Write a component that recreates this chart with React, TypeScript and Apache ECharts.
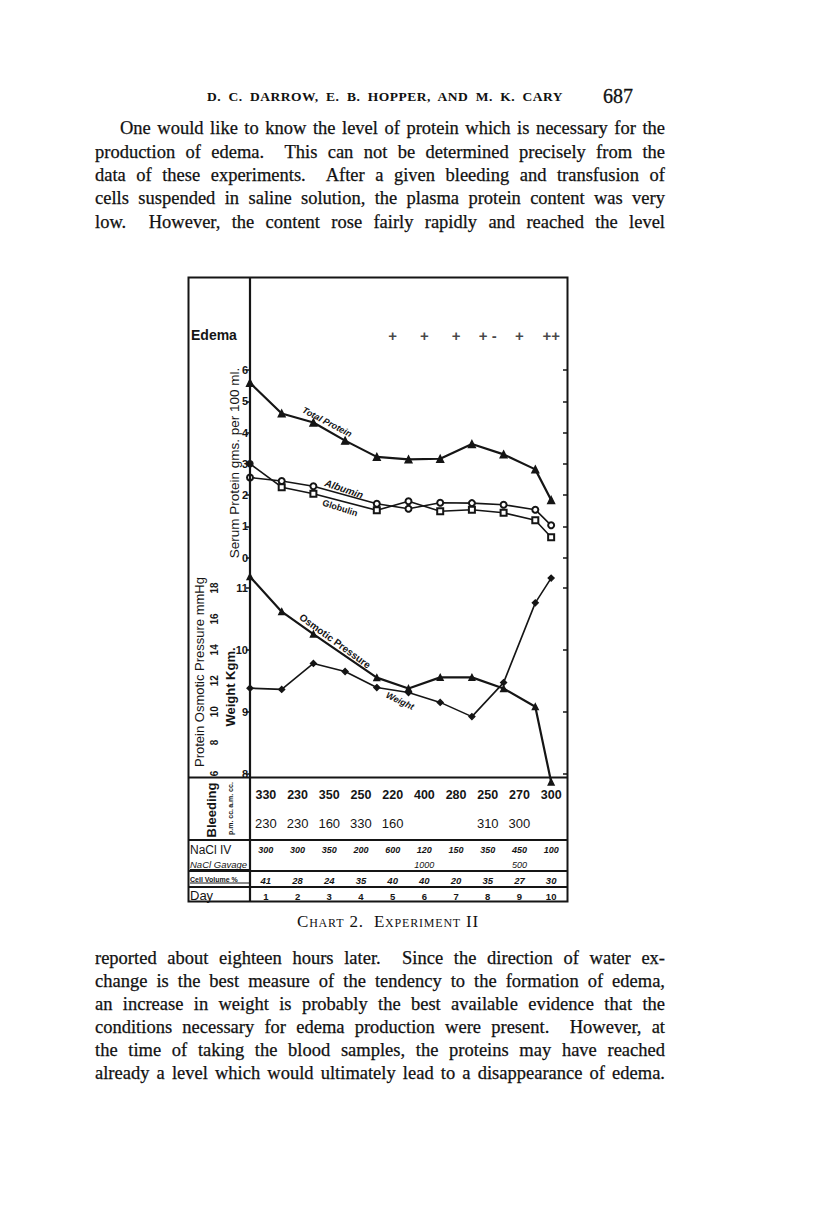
import React, { useEffect, useRef } from "react";
import * as echarts from "echarts";

// ---- data ----
const xAll = [0.5, 1.5, 2.5, 3.5, 4.5, 5.5, 6.5, 7.5, 8.5, 9.5, 10];
const xNo35 = [0.5, 1.5, 2.5, 4.5, 5.5, 6.5, 7.5, 8.5, 9.5, 10];
const totalProtein = [5.59, 4.61, 4.32, 3.74, 3.22, 3.14, 3.16, 3.63, 3.3, 2.82, 1.84];
const albumin = [2.56, 2.45, 2.28, 1.72, 1.56, 1.75, 1.74, 1.69, 1.53, 1.03];
const globulin = [3.0, 2.25, 2.04, 1.51, 1.8, 1.48, 1.53, 1.43, 1.19, 0.65];
const osmoticPressure = [18.73, 16.47, 15.02, 12.2, 11.5, 12.22, 12.22, 11.5, 10.32, 5.45];
const weight = [9.38, 9.36, 9.78, 9.65, 9.39, 9.31, 9.15, 8.92, 9.47, 10.76, 11.16];

const days = [1, 2, 3, 4, 5, 6, 7, 8, 9, 10];
const edema = ["", "", "", "", "+", "+", "+", "+ -", "+", "++"];
const bleedingAM = ["330", "230", "350", "250", "220", "400", "280", "250", "270", "300"];
const bleedingPM = ["230", "230", "160", "330", "160", "", "", "310", "300", ""];
const naclIV = ["300", "300", "350", "200", "600", "120", "150", "350", "450", "100"];
const naclGavage = ["", "", "", "", "", "1000", "", "", "500", ""];
const cellVolume = ["41", "28", "24", "35", "40", "40", "20", "35", "27", "30"];

const topLines = [
  "One would like to know the level of protein which is necessary for the",
  "production of edema.  This can not be determined precisely from the",
  "data of these experiments.  After a given bleeding and transfusion of",
  "cells suspended in saline solution, the plasma protein content was very",
  "low.  However, the content rose fairly rapidly and reached the level",
];
const bottomLines = [
  "reported about eighteen hours later.  Since the direction of water ex-",
  "change is the best measure of the tendency to the formation of edema,",
  "an increase in weight is probably the best available evidence that the",
  "conditions necessary for edema production were present.  However, at",
  "the time of taking the blood samples, the proteins may have reached",
  "already a level which would ultimately lead to a disappearance of edema.",
];

const INK = "#151515";
const HAND = '"Liberation Sans", "DejaVu Sans", sans-serif';
const GRID_L = 250;
const GRID_W = 317;
const X_MIN = 0.5;
const X_MAX = 10.5;
const dayX = (d: number) => GRID_L + ((d - X_MIN) / (X_MAX - X_MIN)) * GRID_W;

function txt(text: string, x: number, y: number, font: string, opts: any = {}) {
  return {
    type: "text",
    x,
    y,
    rotation: opts.rotation || 0,
    z: 10,
    style: {
      text,
      fill: INK,
      font,
      align: opts.align || "center",
      verticalAlign: "middle",
    },
  };
}
function hline(x1: number, x2: number, y: number, w = 1.8) {
  return { type: "line", z: 5, shape: { x1, y1: y, x2, y2: y }, style: { stroke: INK, lineWidth: w } };
}
function vline(x: number, y1: number, y2: number, w = 1.8) {
  return { type: "line", z: 5, shape: { x1: x, y1, x2: x, y2 }, style: { stroke: INK, lineWidth: w } };
}

export default function App() {
  const ref = useRef<HTMLDivElement>(null);

  useEffect(() => {
    if (!ref.current) return;
    const chart = echarts.init(ref.current, undefined, { renderer: "svg" });

    const graphic: any[] = [];
    // frame and table rules
    graphic.push({
      type: "rect",
      z: 5,
      shape: { x: 188.5, y: 277.5, width: 379, height: 624 },
      style: { fill: "none", stroke: INK, lineWidth: 2 },
    });
    graphic.push(vline(250, 278, 901, 2.2));
    graphic.push(hline(188, 568, 777.5, 2));
    graphic.push(hline(188, 568, 840, 1.8));
    graphic.push(hline(188, 568, 871, 1.8));
    graphic.push(hline(188, 568, 887, 1.8));

    // left labels
    graphic.push(txt("Edema", 191, 335, `bold 14px ${HAND}`, { align: "left" }));
    graphic.push(txt("Serum Protein gms. per 100 ml.", 234, 463, `13.5px ${HAND}`, { rotation: Math.PI / 2 }));
    graphic.push(txt("Protein Osmotic Pressure mmHg", 199, 672, `13px ${HAND}`, { rotation: Math.PI / 2 }));
    graphic.push(txt("Weight Kgm.", 230, 687, `bold 13px ${HAND}`, { rotation: Math.PI / 2 }));

    // curve labels
    graphic.push(txt("Total Protein", 327, 422, `italic bold 9px ${HAND}`, { rotation: -0.48 }));
    graphic.push(txt("Albumin", 344, 489, `italic bold 10px ${HAND}`, { rotation: -0.33 }));
    graphic.push(txt("Globulin", 340, 508, `bold 9px ${HAND}`, { rotation: -0.31 }));
    graphic.push(txt("Osmotic Pressure", 335, 641, `bold 10px ${HAND}`, { rotation: -0.63 }));
    graphic.push(txt("Weight", 400, 701, `italic bold 9px ${HAND}`, { rotation: -0.44 }));

    // table row labels
    graphic.push(txt("Bleeding", 211, 810, `bold 13px ${HAND}`, { rotation: Math.PI / 2 }));
    graphic.push(txt("a.m. cc.", 230, 795, `bold 7px ${HAND}`, { rotation: Math.PI / 2 }));
    graphic.push(txt("p.m. cc.", 230, 822, `bold 7px ${HAND}`, { rotation: Math.PI / 2 }));
    graphic.push(txt("NaCl IV", 190, 850, `12px ${HAND}`, { align: "left" }));
    graphic.push(txt("NaCl Gavage", 190, 864, `italic 9.5px ${HAND}`, { align: "left" }));
    graphic.push(hline(190, 249, 869.5, 1));
    graphic.push(txt("Cell Volume %", 190, 879, `bold 7px ${HAND}`, { align: "left" }));
    graphic.push(hline(190, 249, 883, 1));
    graphic.push(txt("Day", 190, 895, `13px ${HAND}`, { align: "left" }));

    // table values
    days.forEach((d, i) => {
      const x = dayX(d);
      if (bleedingAM[i]) graphic.push(txt(bleedingAM[i], x, 795, `bold 12.5px ${HAND}`));
      if (bleedingPM[i]) graphic.push(txt(bleedingPM[i], x, 823, `13px ${HAND}`));
      if (naclIV[i]) graphic.push(txt(naclIV[i], x, 850, `italic bold 9px ${HAND}`));
      if (naclGavage[i]) graphic.push(txt(naclGavage[i], x, 865, `italic 9px ${HAND}`));
      if (cellVolume[i]) graphic.push(txt(cellVolume[i], x, 880, `italic bold 9.5px ${HAND}`));
      graphic.push(txt(String(d), x, 896, `bold 9.5px ${HAND}`));
    });

    const lineBase = (name: string, xi: number, yi: number, data: any[], sym: string, size: number, w: number) => ({
      name,
      type: "line",
      xAxisIndex: xi,
      yAxisIndex: yi,
      data,
      symbol: sym,
      symbolSize: size,
      clip: false,
      showAllSymbol: true,
      lineStyle: { color: INK, width: w },
      itemStyle: { color: INK, borderColor: INK, borderWidth: 1.3 },
      z: 3,
    });

    const globulinData = xNo35.map((x, i) => {
      const item: any = { value: [x, globulin[i]] };
      if (i === 0) item.symbol = "circle";
      if (i === 4) item.symbol = "emptyCircle";
      return item;
    });

    const yTick = (len: number, inside: boolean) => ({
      show: true,
      inside,
      length: len,
      lineStyle: { color: INK, width: 1.5 },
    });

    const option: any = {
      animation: false,
      backgroundColor: "transparent",
      grid: [
        { left: GRID_L, width: GRID_W, top: 370, height: 187.5, show: false },
        { left: GRID_L, width: GRID_W, top: 588, height: 185.5, show: false },
      ],
      xAxis: [
        { type: "value", gridIndex: 0, min: X_MIN, max: X_MAX, show: false },
        { type: "value", gridIndex: 1, min: X_MIN, max: X_MAX, show: false },
      ],
      yAxis: [
        {
          type: "value", gridIndex: 0, position: "left", min: 0, max: 6, interval: 1,
          axisLine: { show: false }, splitLine: { show: false }, axisTick: yTick(4, false),
          axisLabel: { margin: 2, color: INK, fontSize: 11, fontWeight: "bold", fontFamily: HAND },
        },
        {
          type: "value", gridIndex: 0, position: "right", min: 0, max: 6, interval: 1,
          axisLine: { show: false }, splitLine: { show: false }, axisTick: yTick(4, true),
          axisLabel: { show: false },
        },
        {
          type: "value", gridIndex: 1, position: "left", min: 8, max: 11, interval: 1,
          axisLine: { show: false }, splitLine: { show: false }, axisTick: yTick(4, false),
          axisLabel: { margin: 2, color: INK, fontSize: 11, fontWeight: "bold", fontFamily: HAND },
        },
        {
          type: "value", gridIndex: 1, position: "left", offset: 31, min: 6, max: 18, interval: 2,
          axisLine: { show: false }, splitLine: { show: false }, axisTick: { show: false },
          axisLabel: { margin: 0, rotate: 90, color: INK, fontSize: 10, fontWeight: "bold", fontFamily: HAND },
        },
        {
          type: "value", gridIndex: 1, position: "right", min: 8, max: 11, interval: 1,
          axisLine: { show: false }, splitLine: { show: false }, axisTick: yTick(4, true),
          axisLabel: { show: false },
        },
      ],
      series: [
        lineBase("Total Protein", 0, 0, xAll.map((x, i) => [x, totalProtein[i]]), "triangle", 7, 2.2),
        lineBase("Albumin", 0, 0, xNo35.map((x, i) => [x, albumin[i]]), "emptyCircle", 6, 1.6),
        lineBase("Globulin", 0, 0, globulinData, "emptyRect", 6, 1.6),
        lineBase("Osmotic Pressure", 1, 3, xNo35.map((x, i) => [x, osmoticPressure[i]]), "triangle", 6, 2.2),
        lineBase("Weight", 1, 2, xAll.map((x, i) => [x, weight[i]]), "diamond", 6, 1.6),
        {
          name: "Edema",
          type: "scatter",
          xAxisIndex: 0,
          yAxisIndex: 0,
          clip: false,
          symbolSize: 1,
          itemStyle: { color: "rgba(0,0,0,0)" },
          data: days
            .map((d, i) => ({ value: [d, 7.1], name: edema[i] }))
            .filter((p) => p.name !== ""),
          label: {
            show: true,
            position: "inside",
            formatter: (p: any) => p.name,
            color: INK,
            fontSize: 15,
            fontWeight: "bold",
            fontFamily: HAND,
          },
        },
      ],
      graphic,
    };

    chart.setOption(option);
    return () => chart.dispose();
  }, []);

  const proseLine = (text: string, i: number, top: number, indent = 0) => (
    <div
      key={top + "-" + i}
      style={{
        position: "absolute",
        left: 95 + indent,
        top,
        width: 570 - indent,
        fontSize: 18.5,
        lineHeight: "20px",
        textAlign: "justify",
        textAlignLast: "justify" as any,
        whiteSpace: "pre-wrap",
        WebkitTextStroke: "0.25px #111",
      }}
    >
      {text}
    </div>
  );

  const topY = [131, 154.5, 178, 201, 224.5];
  const botY = [961, 984, 1007, 1030, 1053, 1076];

  return (
    <div
      style={{
        position: "absolute",
        left: 0,
        top: 0,
        width: 816,
        height: 1207,
        background: "#fff",
        color: "#111",
        fontFamily: '"Liberation Serif", "DejaVu Serif", serif',
        overflow: "hidden",
      }}
    >
      <div ref={ref} style={{ position: "absolute", left: 0, top: 0, width: 816, height: 1207 }} />
      <div
        style={{
          position: "absolute",
          left: 207,
          top: 89,
          width: 356,
          fontSize: 13.5,
          fontWeight: "bold",
          letterSpacing: 0.5,
          lineHeight: "16px",
          textAlign: "justify",
          textAlignLast: "justify" as any,
        }}
      >
        D. C. DARROW, E. B. HOPPER, AND M. K. CARY
      </div>
      <div style={{ position: "absolute", left: 603, top: 85, fontSize: 20, lineHeight: "22px", WebkitTextStroke: "0.3px #111" }}>687</div>
      {topLines.map((t, i) => proseLine(t, i, topY[i] - 13, i === 0 ? 25 : 0))}
      <div
        style={{
          position: "absolute",
          left: 297,
          top: 912,
          width: 182,
          fontSize: 17,
          lineHeight: "20px",
          fontVariant: "small-caps",
          letterSpacing: 0.8,
          textAlign: "justify",
          textAlignLast: "justify" as any,
          whiteSpace: "pre-wrap",
        }}
      >
        Chart 2.  Experiment II
      </div>
      {bottomLines.map((t, i) => proseLine(t, i, botY[i] - 13))}
    </div>
  );
}
